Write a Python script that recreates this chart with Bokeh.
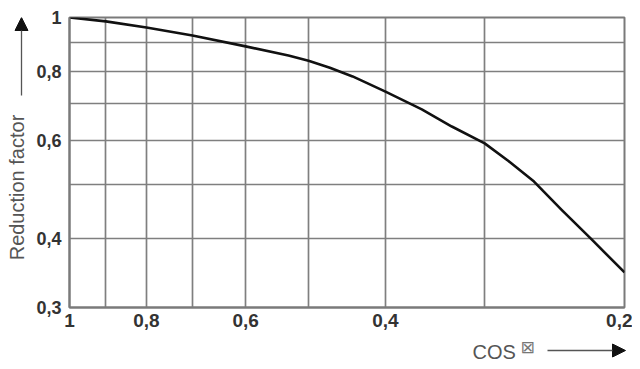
from bokeh.plotting import figure
from bokeh.layouts import row, column
from bokeh.models import Range1d, FixedTicker, CustomJSTickFormatter, Label, Arrow, NormalHead, ColumnDataSource
from bokeh.embed import file_html
from bokeh.resources import INLINE
import math

# data
cos_phi = [1.0, 0.9, 0.8, 0.7, 0.6, 0.53, 0.5, 0.47, 0.44, 0.4, 0.36, 0.33, 0.3, 0.28, 0.26, 0.24, 0.22, 0.2]
factor = [1.0, 0.984, 0.959, 0.928, 0.887, 0.854, 0.836, 0.812, 0.783, 0.735, 0.683, 0.636, 0.593, 0.551, 0.506, 0.450, 0.398, 0.347]

x_ticks = [1.0, 0.8, 0.6, 0.4, 0.2]
x_grid = [0.9, 0.8, 0.7, 0.6, 0.5, 0.4, 0.3]
y_ticks = [1.0, 0.8, 0.6, 0.4, 0.3]
y_grid = [0.9, 0.8, 0.7, 0.6, 0.5, 0.4]

y_title = "Reduction factor"
x_title = "COS"
x_symbol = "\u22a0"

LEFT_W, MAIN_W, TOP_H, BOT_H = 29, 603, 335, 32

def blank(w, h):
    f = figure(width=w, height=h, output_backend="svg", toolbar_location=None,
               x_axis_location=None, y_axis_location=None, min_border=0,
               x_range=Range1d(0, 1), y_range=Range1d(0, 1))
    f.outline_line_color = None
    f.grid.visible = False
    f.background_fill_color = "white"
    f.border_fill_color = "white"
    return f

# main chart
p = figure(width=MAIN_W, height=TOP_H, output_backend="svg", toolbar_location=None,
           x_axis_type="log", y_axis_type="log",
           x_range=Range1d(1.0, 0.2), y_range=Range1d(0.3, 1.0),
           min_border_left=40, min_border_right=8, min_border_top=17, min_border_bottom=28)
p.background_fill_color = "white"
p.border_fill_color = "white"
p.outline_line_color = "#7a7a7a"
p.outline_line_width = 2

fmt = CustomJSTickFormatter(code="return String(Math.round(tick*10)/10).replace('.', ',');")

for ax, ticks in ((p.xaxis[0], x_ticks), (p.yaxis[0], y_ticks)):
    ax.ticker = FixedTicker(ticks=ticks)
    ax.formatter = fmt
    ax.major_tick_line_color = None
    ax.minor_tick_line_color = None
    ax.major_tick_out = 0
    ax.major_tick_in = 0
    ax.axis_line_color = "#7a7a7a"
    ax.axis_line_width = 2
    ax.major_label_text_font = "Liberation Sans"
    ax.major_label_text_font_style = "bold"
    ax.major_label_text_color = "#333333"
p.xaxis.major_label_text_font_size = "19px"
p.yaxis.major_label_text_font_size = "18px"
p.xaxis.major_label_standoff = 6
p.yaxis.major_label_standoff = 8

p.xgrid.ticker = FixedTicker(ticks=x_grid)
p.ygrid.ticker = FixedTicker(ticks=y_grid)
for g in (p.xgrid[0], p.ygrid[0]):
    g.grid_line_color = "#7f7f7f"
    g.grid_line_width = 1.7
    g.grid_line_alpha = 1.0

src = ColumnDataSource(dict(x=cos_phi, y=factor))
p.line("x", "y", source=src, line_color="#111111", line_width=2.6, line_join="round")

# left strip: y title and arrow (its frame lines up with the chart frame)
lf = blank(LEFT_W, TOP_H)
lf.add_layout(Label(x=16, y=120, x_units="screen", y_units="screen", text=y_title, angle=math.pi/2,
                    text_align="center", text_baseline="middle", text_font="Liberation Sans",
                    text_font_size="20px", text_color="#555555"))
lf.add_layout(Arrow(x_start=21, y_start=212, x_end=21, y_end=290,
                    start_units="screen", end_units="screen",
                    line_color="#555555", line_width=1.3,
                    end=NormalHead(size=13, fill_color="#111111", line_color="#111111")))

# bottom strip: x title and arrow
bf = blank(LEFT_W + MAIN_W, BOT_H)
bf.add_layout(Label(x=472, y=16, x_units="screen", y_units="screen", text=x_title,
                    text_align="left", text_baseline="middle", text_font="Liberation Sans",
                    text_font_size="20px", text_color="#555555"))
bf.add_layout(Label(x=520, y=21, x_units="screen", y_units="screen", text=x_symbol,
                    text_align="left", text_baseline="middle", text_font="DejaVu Sans",
                    text_font_size="17px", text_color="#777777"))
bf.add_layout(Arrow(x_start=547, y_start=17, x_end=625, y_end=17, start_units="screen", end_units="screen",
                    line_color="#555555", line_width=1.3,
                    end=NormalHead(size=13, fill_color="#111111", line_color="#111111")))

layout = column(row(lf, p), bf)
open("out.html", "w").write(file_html(layout, INLINE))
